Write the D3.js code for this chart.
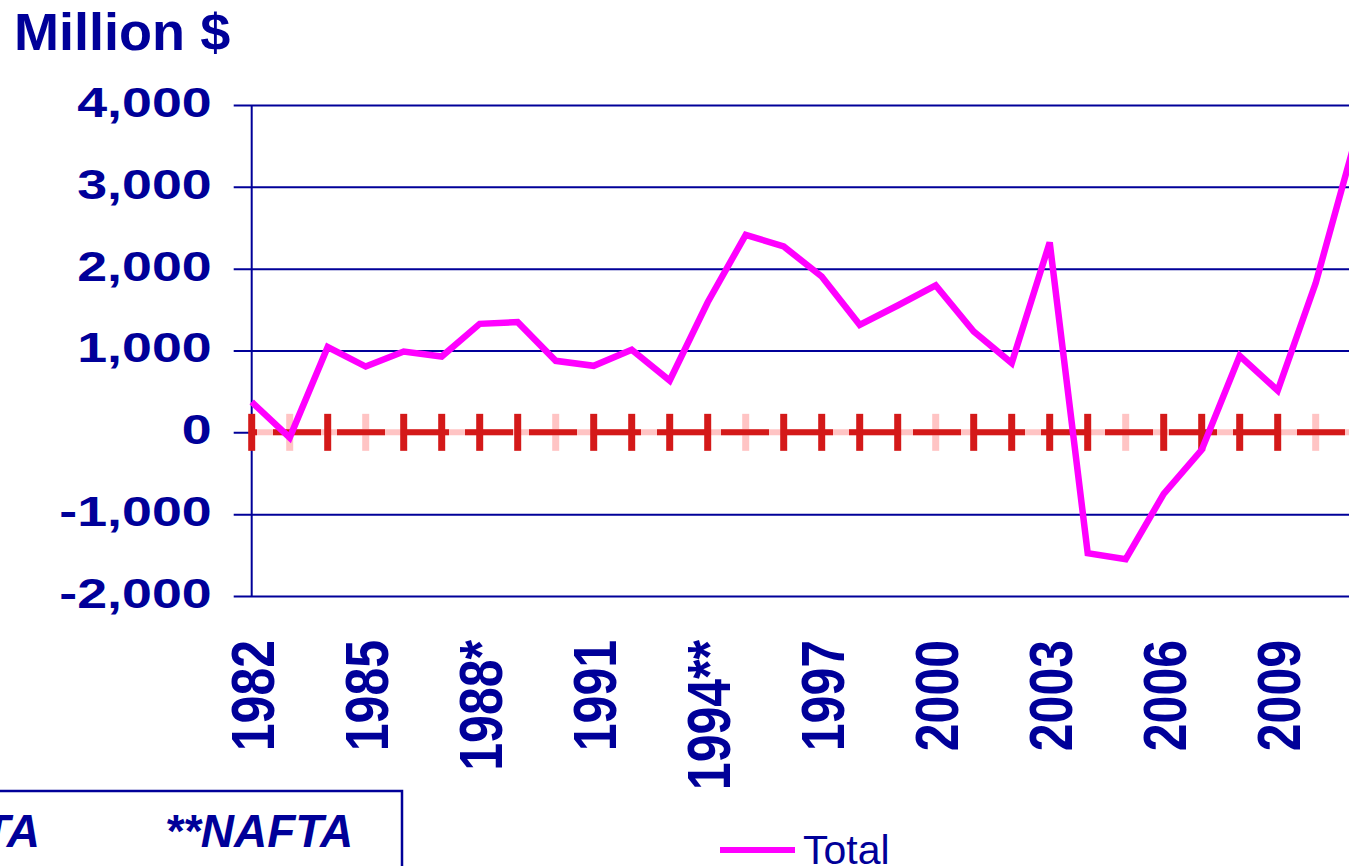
<!DOCTYPE html>
<html>
<head>
<meta charset="utf-8">
<script src="https://cdn.jsdelivr.net/npm/d3@7"></script>
<style>
  html, body { margin: 0; padding: 0; background: #fff; overflow: hidden; }
  svg { display: block; font-family: Arial, "Liberation Sans", sans-serif; }
</style>
</head>
<body>
<div id="canvas"></div>
<script>
// values
const years = [1982, 1983, 1984, 1985, 1986, 1987, 1988, 1989, 1990, 1991,
  1992, 1993, 1994, 1995, 1996, 1997, 1998, 1999, 2000, 2001,
  2002, 2003, 2004, 2005, 2006, 2007, 2008, 2009, 2010, 2011];
const total = [371, -64, 1042, 804, 988, 927, 1326, 1347, 874, 813,
  1009, 633, 1590, 2414, 2271, 1905, 1314, 1550, 1795, 1232,
  846, 2320, -1477, -1550, -752, -214, 935, 511, 1824, 3500];
// the flat red series sitting on zero, drawn with "+" markers
const flat = [0, 0, 0, 0, 0, 0, 0, 0, 0, 0,
  0, 0, 0, 0, 0, 0, 0, 0, 0, 0,
  0, 0, 0, 0, 0, 0, 0, 0, 0, 0];
const pinkMarkYears = [1983, 1985, 1990, 1995, 2000, 2005, 2010];
const yTicks = [-2000, -1000, 0, 1000, 2000, 3000, 4000];
const xLabelYears = [1982, 1985, 1988, 1991, 1994, 1997, 2000, 2003, 2006, 2009];
const xLabelText = { 1988: "1988*", 1994: "1994**" };
const notes = ["*CFTA", "**NAFTA"];
const seriesName = "Total";

function drawChart() {
  const width = 1349;
  const height = 866;
  const blue = "#000099";
  const magenta = "#ff00ff";
  const red = "#d41919";
  const pink = "#ffc4c4";

  const svg = d3.select("#canvas").append("svg")
    .attr("width", width)
    .attr("height", height);

  const x = d3.scalePoint().domain(years).range([251.7, 1353.7]);
  const y = d3.scaleLinear().domain([-2000, 4000]).range([596, 105]);
  const left = x(years[0]);
  const fmt = d3.format(",");

  // gridlines + y labels
  const yAxis = svg.append("g")
    .attr("transform", `translate(${left},0)`)
    .call(d3.axisLeft(y)
      .tickValues(yTicks)
      .tickSizeInner(-(width + 40 - left))
      .tickSizeOuter(0)
      .tickFormat(d => fmt(d).replace("\u2212", "-")));
  yAxis.select(".domain").remove();
  yAxis.selectAll(".tick line")
    .attr("x1", -18)
    .attr("stroke", blue)
    .attr("stroke-width", 2);
  yAxis.selectAll(".tick text")
    .attr("x", null)
    .attr("dy", "0.27em")
    .attr("transform", "translate(-40,0) scale(1.28,1)")
    .attr("fill", blue)
    .attr("font-size", 42)
    .attr("font-weight", "bold");

  // y axis line
  svg.append("line")
    .attr("x1", left).attr("x2", left)
    .attr("y1", y(4000)).attr("y2", y(-2000))
    .attr("stroke", blue)
    .attr("stroke-width", 2);

  // zero series: pink underlay, markers, red dashed line on top
  const flatLine = d3.line()
    .x((d, i) => x(years[i]))
    .y(d => y(d));

  svg.append("path")
    .datum(flat)
    .attr("d", flatLine)
    .attr("fill", "none")
    .attr("stroke", pink)
    .attr("stroke-width", 6);

  svg.selectAll("line.mark")
    .data(years)
    .enter()
    .append("line")
    .attr("class", "mark")
    .attr("x1", d => x(d)).attr("x2", d => x(d))
    .attr("y1", (d, i) => y(flat[i]) - 18.5)
    .attr("y2", (d, i) => y(flat[i]) + 18.5)
    .attr("stroke", d => pinkMarkYears.includes(d) ? pink : red)
    .attr("stroke-width", 7);

  svg.append("path")
    .datum(flat)
    .attr("d", flatLine)
    .attr("fill", "none")
    .attr("stroke", red)
    .attr("stroke-width", 6)
    .attr("stroke-dasharray", "48 16")
    .attr("stroke-dashoffset", 42.7);

  // total line
  const line = d3.line()
    .x((d, i) => x(years[i]))
    .y(d => y(d));

  svg.append("path")
    .datum(total)
    .attr("d", line)
    .attr("fill", "none")
    .attr("stroke", magenta)
    .attr("stroke-width", 6.5);

  // x labels, rotated
  svg.selectAll("text.xlab")
    .data(xLabelYears)
    .enter()
    .append("text")
    .attr("class", "xlab")
    .attr("transform", d => `translate(${x(d)},640) scale(1.22,1) rotate(-90)`)
    .attr("text-anchor", "end")
    .attr("dy", "0.36em")
    .attr("fill", blue)
    .attr("font-size", 50)
    .attr("font-weight", "bold")
    .text(d => xLabelText[d] || d);

  // title
  svg.append("text")
    .attr("transform", "translate(14,50) scale(1.06,1)")
    .attr("fill", blue)
    .attr("font-size", 51)
    .attr("font-weight", "bold")
    .text("Million $");

  // notes box
  svg.append("rect")
    .attr("x", -10).attr("y", 791)
    .attr("width", 412).attr("height", 120)
    .attr("fill", "none")
    .attr("stroke", blue)
    .attr("stroke-width", 2.5);

  svg.append("text")
    .attr("x", 40).attr("y", 847)
    .attr("text-anchor", "end")
    .attr("fill", blue)
    .attr("font-size", 46)
    .attr("font-weight", "bold")
    .attr("font-style", "italic")
    .text(notes[0]);

  svg.append("text")
    .attr("x", 165).attr("y", 847)
    .attr("fill", blue)
    .attr("font-size", 46)
    .attr("font-weight", "bold")
    .attr("font-style", "italic")
    .text(notes[1]);

  // legend
  svg.append("line")
    .attr("x1", 720).attr("x2", 795)
    .attr("y1", 850).attr("y2", 850)
    .attr("stroke", magenta)
    .attr("stroke-width", 6);

  svg.append("text")
    .attr("x", 803).attr("y", 864)
    .attr("fill", blue)
    .attr("font-size", 41)
    .text(seriesName);
}

drawChart();
</script>
</body>
</html>
